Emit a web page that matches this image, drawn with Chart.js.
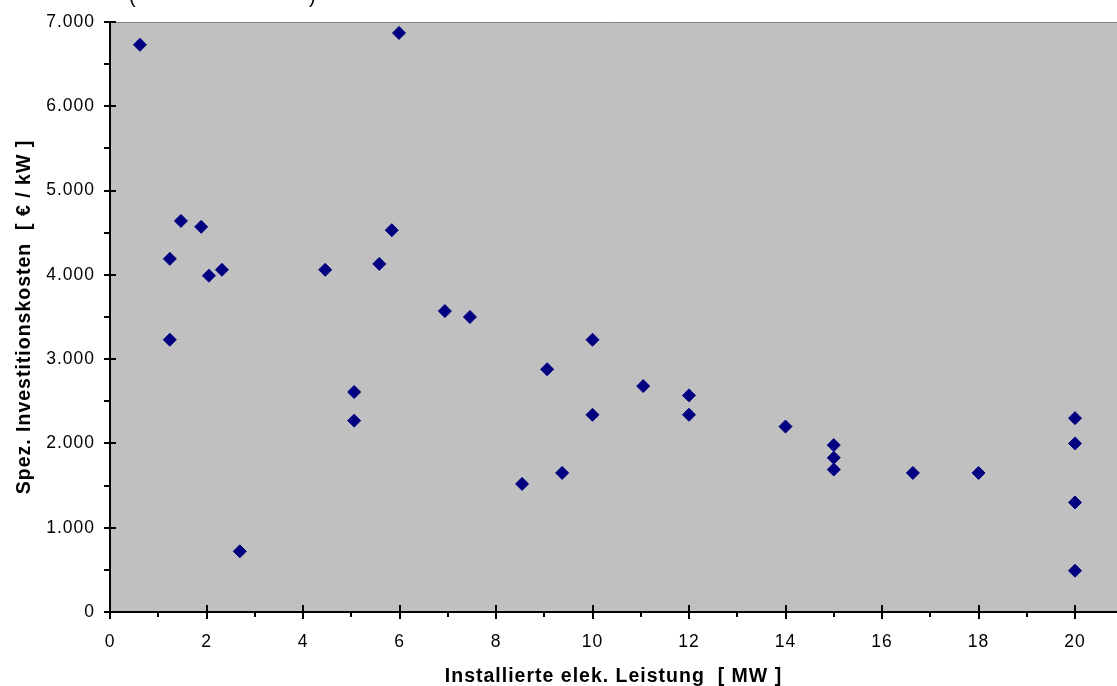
<!DOCTYPE html>
<html>
<head>
<meta charset="utf-8">
<script src="https://cdn.jsdelivr.net/npm/chart.js@4/dist/chart.umd.min.js"></script>
<style>
  html, body { margin: 0; padding: 0; background: #fff; }
  #kostenChart { display: block; }
</style>
</head>
<body>
<canvas id="kostenChart" width="1117" height="686"></canvas>
<script>
// installierte Leistung [MW] und spezifische Investitionskosten [EUR/kW] je Anlage
const leistungMW = [0.62, 1.24, 1.24, 1.47, 1.89, 2.05, 2.32, 2.69, 4.46, 5.06, 5.06, 5.58, 5.84, 5.99,
    6.94, 7.46, 8.54, 9.06, 9.37, 10, 10, 11.05, 12, 12, 14, 15, 15, 15, 16.64, 18, 20, 20, 20, 20];
const kostenEurKW = [6730, 4190, 3230, 4640, 4570, 3990, 4060, 720, 4060, 2610, 2270, 4130, 4530, 6870,
    3570, 3500, 1520, 2880, 1650, 3230, 2340, 2680, 2570, 2340, 2200, 1980, 1830, 1690, 1650, 1650,
    2300, 2000, 1300, 490];

const xTitel = 'Installierte elek. Leistung  [ MW ]';
const yTitel = 'Spez. Investitionskosten  [ € / kW ]';
const xTicks = { min: 0, max: 20.87, step: 1, labelEvery: 2 };
const yTicks = { min: 0, max: 7000, step: 500, labelEvery: 1000 };

const fontFamily = "'Liberation Sans', Arial, sans-serif";

function tausender(v) {
    return String(v).replace(/\B(?=(\d{3})+(?!\d))/g, '.');
}

// grauer Plotbereich + Textabstand wie in Excel
const plotHintergrund = {
    id: 'plotHintergrund',
    beforeDraw(chart) {
        const { ctx, chartArea: a } = chart;
        ctx.letterSpacing = '1px';
        ctx.save();
        ctx.fillStyle = '#c0c0c0';
        ctx.fillRect(a.left, a.top, a.right - a.left, a.bottom - a.top);
        ctx.strokeStyle = '#808080';
        ctx.lineWidth = 1;
        ctx.beginPath();
        ctx.moveTo(a.left, a.top + 0.5);
        ctx.lineTo(a.right, a.top + 0.5);
        ctx.stroke();
        // abgeschnittener Diagrammtitel oben
        ctx.fillStyle = '#000';
        ctx.font = '20px ' + fontFamily;
        ctx.textBaseline = 'alphabetic';
        ctx.fillText('(', 129, 3);
        ctx.fillText(')', 309, 3);
        ctx.restore();
    }
};

// Haupt- und Hilfsstriche an den Achsen
const achsenStriche = {
    id: 'achsenStriche',
    afterDraw(chart) {
        const { ctx, chartArea: a } = chart;
        const xs = chart.scales.x, ys = chart.scales.y;
        ctx.save();
        ctx.strokeStyle = '#000';
        ctx.lineWidth = 2;
        ctx.beginPath();
        ys.ticks.forEach(t => {
            const py = Math.round(ys.getPixelForValue(t.value));
            const major = t.value % yTicks.labelEvery === 0;
            ctx.moveTo(a.left - 6, py);
            ctx.lineTo(major ? a.left + 6 : a.left, py);
        });
        xs.ticks.forEach(t => {
            const px = Math.round(xs.getPixelForValue(t.value));
            const major = t.value % xTicks.labelEvery === 0;
            ctx.moveTo(px, major ? a.bottom - 7 : a.bottom);
            ctx.lineTo(px, major ? a.bottom + 7 : a.bottom + 5);
        });
        ctx.stroke();
        ctx.restore();
        ctx.letterSpacing = '0px';
    }
};

const ctx = document.getElementById('kostenChart').getContext('2d');

new Chart(ctx, {
    type: 'scatter',
    data: {
        datasets: [{
            label: 'Anlagen',
            data: leistungMW.map((x, i) => ({ x: x, y: kostenEurKW[i] })),
            pointStyle: 'rectRot',
            pointRadius: 6.5,
            pointHoverRadius: 6.5,
            backgroundColor: '#000080',
            borderColor: '#000080',
            borderWidth: 1
        }]
    },
    options: {
        responsive: false,
        animation: false,
        devicePixelRatio: 1,
        layout: {
            autoPadding: false,
            padding: { top: 22, right: 0, bottom: 0, left: 0 }
        },
        plugins: {
            legend: { display: false },
            tooltip: { enabled: false }
        },
        scales: {
            x: {
                type: 'linear',
                min: xTicks.min,
                max: xTicks.max,
                afterFit(scale) {
                    scale.height = 74;
                    scale.paddingLeft = 0;
                    scale.paddingRight = 0;
                },
                grid: { display: false, drawTicks: false },
                border: { display: true, color: '#000', width: 2 },
                ticks: {
                    stepSize: xTicks.step,
                    includeBounds: false,
                    autoSkip: false,
                    maxRotation: 0,
                    padding: 20,
                    color: '#000',
                    font: { family: fontFamily, size: 17.5 },
                    callback: v => (v % xTicks.labelEvery === 0 ? String(v) : '')
                },
                title: {
                    display: true,
                    text: xTitel,
                    color: '#000',
                    padding: { top: 0, bottom: -2 },
                    font: { family: fontFamily, size: 19.5, weight: 'bold' }
                }
            },
            y: {
                type: 'linear',
                min: yTicks.min,
                max: yTicks.max,
                afterFit(scale) {
                    scale.width = 110;
                    scale.paddingTop = 0;
                    scale.paddingBottom = 0;
                },
                grid: { display: false, drawTicks: false },
                border: { display: true, color: '#000', width: 2 },
                ticks: {
                    stepSize: yTicks.step,
                    autoSkip: false,
                    padding: 15,
                    color: '#000',
                    font: { family: fontFamily, size: 17.5 },
                    callback: v => (v % yTicks.labelEvery === 0 ? tausender(v) : '')
                },
                title: {
                    display: true,
                    text: yTitel,
                    color: '#000',
                    padding: { top: 13, bottom: 0 },
                    font: { family: fontFamily, size: 19.5, weight: 'bold' }
                }
            }
        }
    },
    plugins: [plotHintergrund, achsenStriche]
});
</script>
</body>
</html>
